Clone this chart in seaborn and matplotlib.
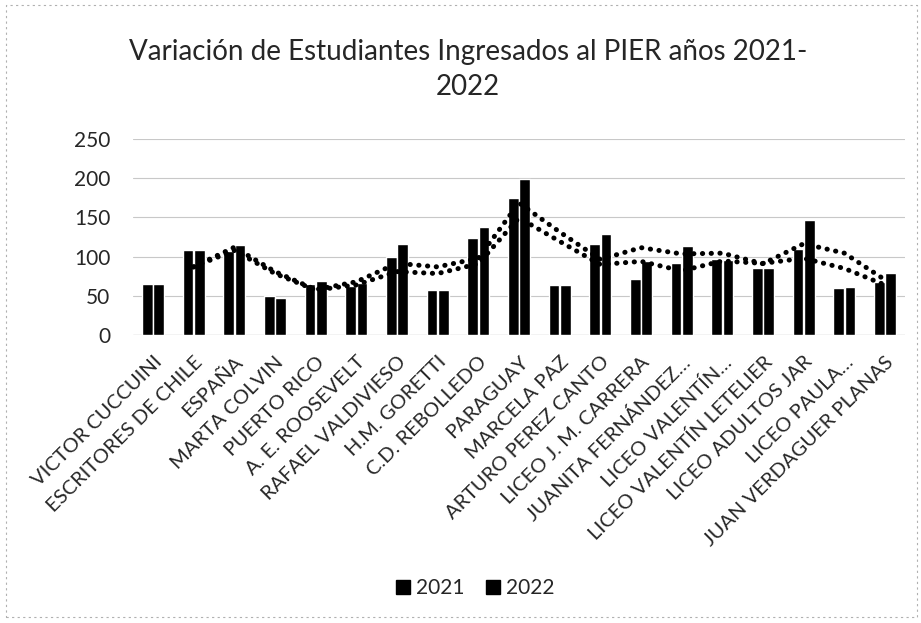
import numpy as np
import pandas as pd
import seaborn as sns
import matplotlib
import matplotlib.pyplot as plt
from matplotlib.lines import Line2D
from matplotlib.patches import Rectangle

matplotlib.use('Agg')

# Datos
colegios = ['VICTOR CUCCUINI', 'ESCRITORES DE CHILE', 'ESPAÑA', 'MARTA COLVIN',
            'PUERTO RICO', 'A. E. ROOSEVELT', 'RAFAEL VALDIVIESO', 'H.M. GORETTI',
            'C.D. REBOLLEDO', 'PARAGUAY', 'MARCELA PAZ', 'ARTURO PEREZ CANTO',
            'LICEO J. M. CARRERA', 'JUANITA FERNÁNDEZ…', 'LICEO VALENTÍN…',
            'LICEO VALENTÍN LETELIER', 'LICEO ADULTOS JAR', 'LICEO PAULA…',
            'JUAN VERDAGUER PLANAS']
ingresados_2021 = [65, 109, 107, 50, 65, 63, 99, 58, 124, 175, 64, 116, 72, 92, 97, 86, 110, 60, 68]
ingresados_2022 = [65, 109, 115, 47, 69, 67, 116, 58, 138, 199, 64, 129, 94, 113, 96, 86, 147, 62, 79]
anios = ['2021', '2022']
yticks = [0, 50, 100, 150, 200, 250]

df = pd.DataFrame({
    'colegio': colegios * 2,
    'anio': [anios[0]] * len(colegios) + [anios[1]] * len(colegios),
    'valor': ingresados_2021 + ingresados_2022,
})

sns.set_style('white')
plt.rcParams['font.family'] = ['Lato', 'DejaVu Sans']

fig = plt.figure(figsize=(9.21, 6.23), dpi=100)
ax = fig.add_axes([0.144, 0.462, 0.839, 0.315])

sns.barplot(data=df, x='colegio', y='valor', hue='anio', order=colegios,
            palette=['black', 'black'], width=0.56, gap=0.08, ax=ax,
            legend=False, saturation=1)

# Media móvil de 2 periodos (línea de tendencia)
x = np.arange(len(colegios))
for serie in [ingresados_2021, ingresados_2022]:
    ma = pd.Series(serie).rolling(2).mean()
    ax.plot(x, ma, color='black', linewidth=3.6, linestyle=(0, (0.05, 1.7)),
            dash_capstyle='round', zorder=5)

ax.set_ylim(0, 250)
ax.set_xlim(-0.5, len(colegios) - 0.5)
ax.set_yticks(yticks)
ax.set_yticklabels([str(v) for v in yticks], fontsize=15)
ax.grid(axis='y', color='#c8c8c8', linewidth=0.8)
ax.set_axisbelow(True)
for s in ax.spines.values():
    s.set_visible(False)
ax.axhline(0, color='#bdbdbd', linewidth=0.9, zorder=0)
ax.tick_params(axis='y', length=0, pad=16)
ax.tick_params(axis='x', length=0, pad=13)
ax.set_xlabel('')
ax.set_ylabel('')
ax.set_xticks(x)
ax.set_xticklabels(colegios, rotation=45, ha='right', rotation_mode='anchor', fontsize=14.5)

fig.text(0.508, 0.937, 'Variación de Estudiantes Ingresados al PIER años 2021-\n2022',
         ha='center', va='top', fontsize=20, linespacing=1.4)

handles = [Line2D([], [], marker='s', color='black', linestyle='', markersize=10) for _ in anios]
fig.legend(handles, anios, loc='center', bbox_to_anchor=(0.516, 0.056), ncol=2, frameon=False,
           fontsize=15, handlelength=0.7, handletextpad=0.3, columnspacing=1.0)

# Borde punteado del área del gráfico
fig.patches.append(Rectangle((0.006, 0.01), 0.99, 0.982, transform=fig.transFigure,
                             fill=False, edgecolor='#b0b0b0', linewidth=0.8, linestyle=(0, (2, 3))))

plt.savefig('out.png', dpi=100)
